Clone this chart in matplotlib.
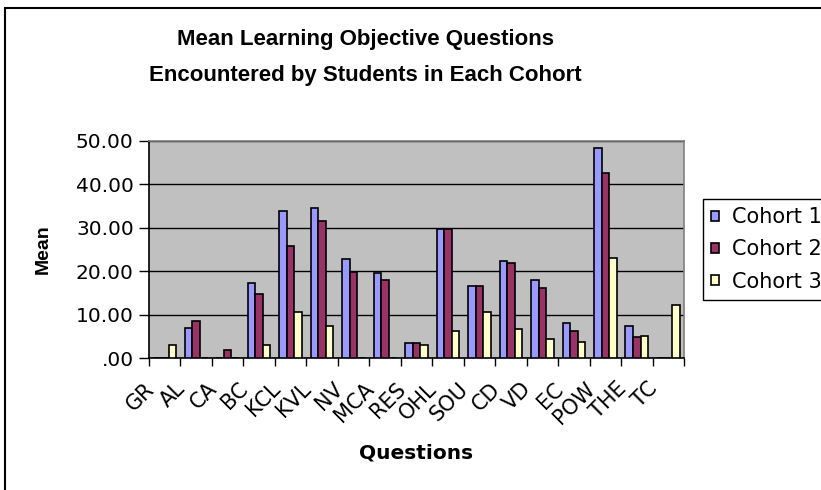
import matplotlib
matplotlib.use("Agg")
import matplotlib.pyplot as plt
import matplotlib.transforms as mtransforms
from matplotlib.patches import Rectangle
from matplotlib.ticker import FuncFormatter
import numpy as np

questions = ["GR", "AL", "CA", "BC", "KCL", "KVL", "NV", "MCA", "RES",
             "OHL", "SOU", "CD", "VD", "EC", "POW", "THE", "TC"]
cohort_1 = [0.0, 7.0, 0.0, 17.3, 33.8, 34.6, 22.7, 19.5, 3.5,
            29.7, 16.5, 22.4, 17.9, 8.05, 48.5, 7.3, 0.0]
cohort_2 = [0.0, 8.5, 1.85, 14.7, 25.8, 31.6, 19.8, 17.9, 3.5,
            29.7, 16.5, 22.0, 16.1, 6.2, 42.7, 4.75, 0.0]
cohort_3 = [2.9, 0.0, 0.0, 2.9, 10.65, 7.3, 0.0, 0.0, 2.9,
            6.2, 10.65, 6.6, 4.4, 3.6, 23.1, 5.1, 12.1]
series_names = ["Cohort 1", "Cohort 2", "Cohort 3"]
series_colors = ["#9999FF", "#993366", "#FFFFCC"]

W, H = 821, 490
fig = plt.figure(figsize=(W / 100, H / 100), dpi=100)
ax = fig.add_axes([149 / W, 1 - 358 / H, (684 - 149) / W, (358 - 141) / H])
ax.set_facecolor("#C0C0C0")

x = np.arange(len(questions))
bw = 0.24
for i, (vals, name, col) in enumerate(zip([cohort_1, cohort_2, cohort_3], series_names, series_colors)):
    ax.bar(x + (i - 1) * bw, vals, width=bw, color=col, edgecolor="black",
           linewidth=1.2, label=name, zorder=3)

ax.set_xlim(-0.5, len(questions) - 0.5)
ax.set_ylim(0, 50)
ax.set_yticks(np.arange(0, 51, 10))
ax.yaxis.set_major_formatter(FuncFormatter(lambda v, p: f"{v:.2f}".lstrip("0") if v < 10 else f"{v:.2f}"))
ax.yaxis.grid(True, color="black", linewidth=1.0, zorder=1)
ax.set_axisbelow(True)

# category boundaries carry the tick marks, centres carry the labels
ax.set_xticks(np.arange(-0.5, len(questions), 1.0))
ax.set_xticklabels([])
ax.set_xticks(x, minor=True)
ax.set_xticklabels(questions, minor=True, rotation=45, ha="right", va="center",
                   rotation_mode="anchor", fontsize=15, family="DejaVu Sans")
ax.tick_params(axis="x", which="major", length=6, width=1.0, direction="out")
ax.tick_params(axis="x", which="minor", length=0, pad=20)
ax.tick_params(axis="y", length=7, width=1.0, direction="out", labelsize=14.5, pad=4)
shift = mtransforms.ScaledTranslation(-0.14, 0, fig.dpi_scale_trans)
for lbl in ax.get_xticklabels(minor=True):
    lbl.set_transform(lbl.get_transform() + shift)

for side in ["top", "right"]:
    ax.spines[side].set_color("#808080")
    ax.spines[side].set_linewidth(1.2)
for side in ["left", "bottom"]:
    ax.spines[side].set_color("black")
    ax.spines[side].set_linewidth(1.2)

ax.set_ylabel("Mean", fontsize=14, fontweight="bold", family="Liberation Sans")
ax.yaxis.set_label_coords(-0.181, 0.5)
fig.text(416 / W, 1 - 453 / H, "Questions", ha="center", va="center",
         fontsize=14.5, fontweight="bold", family="DejaVu Sans")
fig.text(365 / W, 1 - 40 / H, "Mean Learning Objective Questions", ha="center", va="center",
         fontsize=16, fontweight="bold", family="Liberation Sans")
fig.text(365 / W, 1 - 75 / H, "Encountered by Students in Each Cohort", ha="center", va="center",
         fontsize=16, fontweight="bold", family="Liberation Sans")

leg = fig.legend(loc="upper left", bbox_to_anchor=(703 / W, 1 - 199 / H),
                 bbox_transform=fig.transFigure, frameon=True, fancybox=False,
                 edgecolor="black", framealpha=1, borderaxespad=0, borderpad=0.4,
                 handlelength=0.36, handleheight=0.36, handletextpad=0.65,
                 labelspacing=0.58, prop={"family": "DejaVu Sans", "size": 15})
leg.get_frame().set_linewidth(1.0)

# chart border
fig.patches.append(Rectangle((5 / W, -0.1), 1.2, 1 - 8 / H + 0.1, transform=fig.transFigure,
                             fill=False, edgecolor="black", linewidth=1.5))

fig.savefig("out.png", dpi=100)
